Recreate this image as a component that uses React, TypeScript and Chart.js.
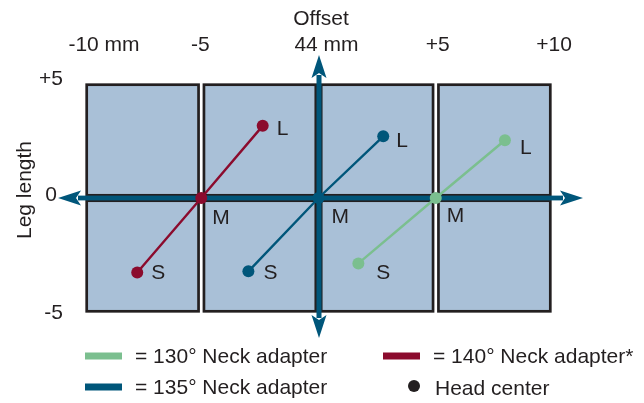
import React, { useEffect, useRef } from "react";
import { Chart, registerables } from "chart.js";

Chart.register(...registerables);

// ---- data ----
const xTickValues = [-10, -5, 0, 5, 10];
const xTickLabels = ["-10 mm", "-5", "44 mm", "+5", "+10"];
const yTickValues = [5, 0, -5];
const yTickLabels = ["+5", "0", "-5"];
const xTitle = "Offset";
const yTitle = "Leg length";
const cellEdgesX = [-10, -5, 0, 5, 10];
const cellEdgesY = [-5, 0, 5];
const pointLabels = ["S", "M", "L"];
const seriesLabels = ["130° Neck adapter", "135° Neck adapter", "140° Neck adapter*"];
const adapter130 = [
  { x: 1.7, y: -2.82 },
  { x: 5, y: 0 },
  { x: 7.95, y: 2.49 },
];
const adapter135 = [
  { x: -2.99, y: -3.16 },
  { x: 0, y: 0 },
  { x: 2.76, y: 2.66 },
];
const adapter140 = [
  { x: -7.73, y: -3.21 },
  { x: -5, y: 0 },
  { x: -2.38, y: 3.11 },
];
const headCenterLabel = "Head center";

// ---- styles ----
const FONT = "'Liberation Sans', Arial, sans-serif";
const TEXT = "#231f20";
const CELL_FILL = "#a9c0d7";
const CELL_BORDER = "#231f20";
const AXIS = "#00567a";
const GREEN = "#7bbf8f";
const TEAL = "#00567a";
const RED = "#8b0b2d";
const seriesColors = [GREEN, TEAL, RED];
// label offsets (px) per series, per point S, M, L
const labelOffsets = [
  [[18, 10], [11, 18], [15, 8]],
  [[15, 2], [13, 19], [13, 5]],
  [[14, 1], [11, 20], [14, 3]],
];
const xTickDx = [20, -1, 8, 2, 1];
const yTickPos = [[63, -3], [57, -3], [63, -1]];

const decorPlugin = {
  id: "decor",
  beforeDatasetsDraw(chart: any) {
    const { ctx, scales } = chart;
    const xs = scales.x;
    const ys = scales.y;
    ctx.save();
    // cells
    const inset = 2.7;
    ctx.lineWidth = 2.7;
    ctx.strokeStyle = CELL_BORDER;
    ctx.fillStyle = CELL_FILL;
    for (let i = 0; i < cellEdgesX.length - 1; i++) {
      for (let j = 0; j < cellEdgesY.length - 1; j++) {
        const l = xs.getPixelForValue(cellEdgesX[i]) + inset;
        const r = xs.getPixelForValue(cellEdgesX[i + 1]) - inset;
        const t = ys.getPixelForValue(cellEdgesY[j + 1]) + inset;
        const b = ys.getPixelForValue(cellEdgesY[j]) - inset;
        ctx.fillRect(l, t, r - l, b - t);
        ctx.strokeRect(l, t, r - l, b - t);
      }
    }
    // axes with arrows
    const x0 = xs.getPixelForValue(0) + 0.5;
    const y0 = ys.getPixelForValue(0);
    const L = chart.chartArea.left - 26;
    const R = chart.chartArea.right + 30;
    const T = chart.chartArea.top - 27;
    const B = chart.chartArea.bottom + 24;
    ctx.fillStyle = AXIS;
    ctx.fillRect(L + 20, y0 - 2.4, R - L - 40, 4.8);
    ctx.fillRect(x0 - 2.5, T + 20, 5, B - T - 40);
    const head = (tx: number, ty: number, dx: number, dy: number) => {
      // dx,dy unit direction pointing toward tip
      const len = 23, half = 7.5, notch = 5;
      const bx = tx - dx * len, by = ty - dy * len;
      const px = -dy, py = dx;
      ctx.beginPath();
      ctx.moveTo(tx, ty);
      ctx.lineTo(bx + px * half, by + py * half);
      ctx.lineTo(bx + dx * notch, by + dy * notch);
      ctx.lineTo(bx - px * half, by - py * half);
      ctx.closePath();
      ctx.fill();
    };
    head(L, y0, -1, 0);
    head(R, y0, 1, 0);
    head(x0, T, 0, -1);
    head(x0, B, 0, 1);
    ctx.restore();
  },
  afterDatasetsDraw(chart: any) {
    const { ctx, scales } = chart;
    const xs = scales.x;
    const ys = scales.y;
    ctx.save();
    ctx.fillStyle = TEXT;
    ctx.font = `21px ${FONT}`;
    ctx.textBaseline = "middle";
    // point labels
    chart.data.datasets.forEach((ds: any, i: number) => {
      ds.data.forEach((p: any, k: number) => {
        const px = xs.getPixelForValue(p.x);
        const py = ys.getPixelForValue(p.y);
        const [dx, dy] = labelOffsets[i][k];
        ctx.textAlign = "left";
        ctx.fillText(pointLabels[k], px + dx, py + dy);
      });
    });
    // x ticks
    ctx.textAlign = "center";
    xTickValues.forEach((v, i) => {
      ctx.fillText(xTickLabels[i], xs.getPixelForValue(v) + xTickDx[i], 45);
    });
    ctx.fillText(xTitle, 321, 19);
    // y ticks
    ctx.textAlign = "right";
    yTickValues.forEach((v, i) => {
      ctx.fillText(yTickLabels[i], yTickPos[i][0], ys.getPixelForValue(v) + yTickPos[i][1]);
    });
    // y title
    ctx.save();
    ctx.translate(25, 190);
    ctx.rotate(-Math.PI / 2);
    ctx.textAlign = "center";
    ctx.fillText(yTitle, 0, 0);
    ctx.restore();
    // legend
    const items = [
      { ds: 0, x: 85, y: 356 },
      { ds: 2, x: 383, y: 356 },
      { ds: 1, x: 85, y: 387 },
    ];
    ctx.textAlign = "left";
    items.forEach((it) => {
      const ds = chart.data.datasets[it.ds];
      ctx.fillStyle = ds.borderColor;
      ctx.fillRect(it.x, it.y - 3.5, 37, 7);
      ctx.fillStyle = TEXT;
      ctx.fillText("= " + ds.label, it.x + 50, it.y + 1);
    });
    ctx.beginPath();
    ctx.arc(414, 386, 6, 0, Math.PI * 2);
    ctx.fillStyle = TEXT;
    ctx.fill();
    ctx.fillText(headCenterLabel, 435, 389);
    ctx.restore();
  },
};

export default function App() {
  const ref = useRef<HTMLCanvasElement | null>(null);
  useEffect(() => {
    document.body.style.margin = "0";
    const series = [adapter130, adapter135, adapter140];
    const chart = new Chart(ref.current!, {
      type: "scatter",
      data: {
        datasets: series.map((d, i) => ({
          label: seriesLabels[i],
          data: d,
          showLine: true,
          borderColor: seriesColors[i],
          backgroundColor: seriesColors[i],
          pointBackgroundColor: seriesColors[i],
          pointBorderColor: seriesColors[i],
          borderWidth: 2.4,
          pointRadius: 6,
          pointBorderWidth: 0,
          clip: false,
        })),
      },
      options: {
        animation: false,
        responsive: false,
        devicePixelRatio: 1,
        layout: { padding: { left: 84, right: 91, top: 82, bottom: 89 } },
        scales: {
          x: { type: "linear", min: -10, max: 10, display: false },
          y: { type: "linear", min: -5, max: 5, display: false },
        },
        plugins: { legend: { display: false }, tooltip: { enabled: false } },
        events: [],
      },
      plugins: [decorPlugin],
    } as any);
    return () => chart.destroy();
  }, []);
  return (
    <div style={{ width: 644, height: 403 }}>
      <canvas ref={ref} width={644} height={403} />
    </div>
  );
}
